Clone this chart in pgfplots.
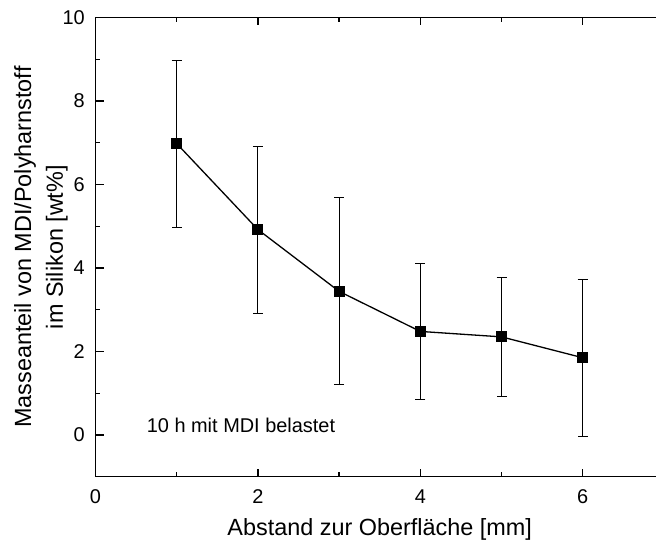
\documentclass[border={0pt 0pt -8.65bp 0pt}]{standalone}
\usepackage{pgfplots}
\pgfplotsset{compat=1.18}
\usepackage{fontspec}
\setmainfont{Liberation Sans}
\pgfplotstableread{
x y e
1 6.98 2.00
2 4.92 2.00
3 3.44 2.24
4 2.48 1.63
5 2.35 1.43
6 1.85 1.88
}\datatable
\begin{document}
\begin{tikzpicture}
\path (-95.5bp,-66.3bp) rectangle (560.5bp,476.7bp);
\begin{axis}[
  scale only axis, width=568.4bp, height=459.2bp,
  xmin=0, xmax=7, ymin=-1, ymax=10,
  xtick={0,2,4,6}, xticklabels={0,2,4,6}, minor xtick={1,3,5},
  ytick={0,2,4,6,8,10}, yticklabels={0,2,4,6,8,10}, minor ytick={1,3,5,7,9},
  xtick pos=both, ytick pos=both,
  xticklabel pos=lower, yticklabel pos=left,
  xtick align=inside, ytick align=inside,
  tickwidth=8bp, subtickwidth=4.5bp,
  xtick style={draw=black, line width=1.3bp},
  ytick style={draw=black, line width=1.3bp},
  axis line style={line width=1.5bp},
  tick label style={font=\fontsize{20}{24}\selectfont, inner sep=0pt},
  yticklabel shift=10.5bp,
  xticklabel shift=13bp,
  xlabel={Abstand zur Oberfläche [mm]},
  xlabel style={font=\fontsize{23.5}{28}\selectfont, at={(axis description cs:0.5,0)}, anchor=base, yshift=-58.3bp},
  ylabel={Masseanteil von MDI/Polyharnstoff\\im Silikon [wt\%]},
  ylabel style={font=\fontsize{23.5}{32}\selectfont, align=center, at={(axis description cs:0,0.5)}, anchor=center, yshift=54.5bp},
]
\addplot[black, line width=1.3bp, mark=square*, mark size=4.8bp, mark options={solid},
  error bars/.cd, y dir=both, y explicit,
  error bar style={line width=1bp},
  error mark options={rotate=90, mark size=5bp, line width=1bp}]
  table[x=x, y=y, y error=e] {\datatable};
\node[anchor=base west, inner sep=0pt, font=\fontsize{20}{24}\selectfont] at (axis cs:0.63,0.07) {10 h mit MDI belastet};
\end{axis}
\end{tikzpicture}
\end{document}
